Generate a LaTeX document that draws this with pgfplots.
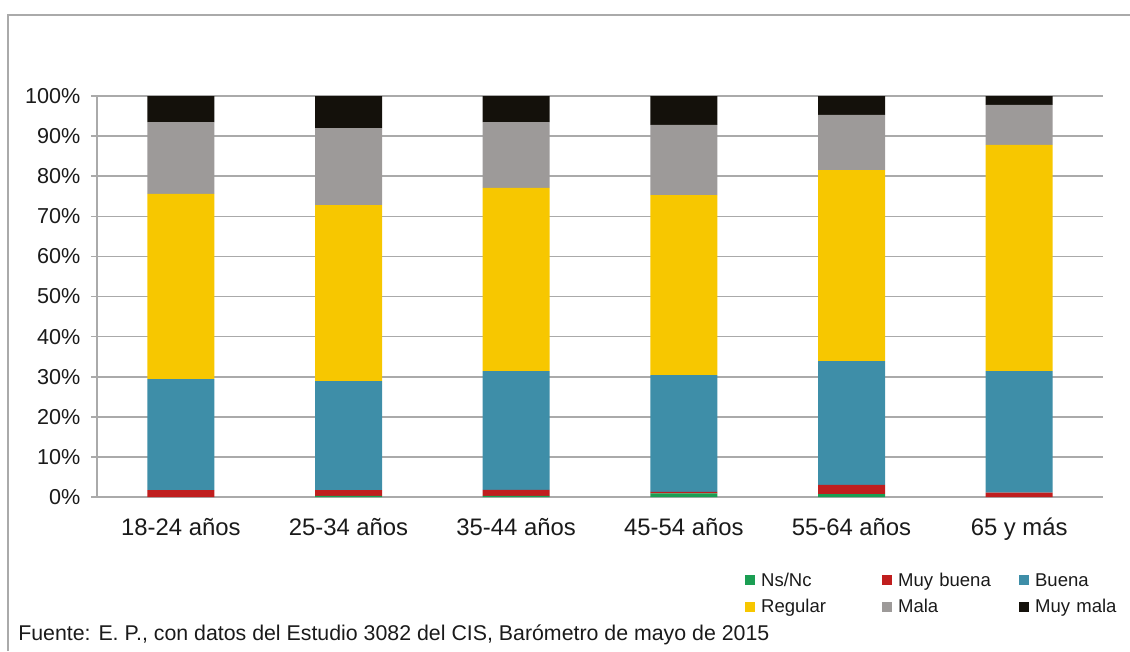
\documentclass[border=0pt]{standalone}
\usepackage{pgfplots}
\pgfplotsset{compat=1.18}
\usepackage{fontspec}
\setmainfont{Liberation Sans}

\definecolor{nsnc}{RGB}{27,158,83}
\definecolor{muybuena}{RGB}{192,30,30}
\definecolor{buena}{RGB}{62,142,168}
\definecolor{regular}{RGB}{247,199,0}
\definecolor{mala}{RGB}{157,154,153}
\definecolor{muymala}{RGB}{20,17,11}
\definecolor{gridgray}{RGB}{170,170,170}
\definecolor{txt}{RGB}{26,26,26}

\begin{document}
\begin{tikzpicture}
\path[use as bounding box] (0,0) rectangle (847.5pt,488.25pt);
% outer frame
\draw[gridgray, line width=1.2pt] (6pt,0) -- (6pt,477pt) -- (847.5pt,477pt);

\begin{axis}[
    at={(72.75pt,115.5pt)}, anchor=south west,
    scale only axis,
    width=754.5pt, height=300.75pt,
    ybar stacked, bar width=50.25pt,
    xmin=-0.5, xmax=5.5, ymin=0, ymax=100,
    axis x line*=bottom, axis y line*=left,
    axis line style={gridgray, line width=1.2pt, -},
    xtick={0,...,5},
    xticklabels={18-24 años,25-34 años,35-44 años,45-54 años,55-64 años,65 y más},
    minor xtick={-0.5,0.5,...,5.5},
    xtick style={draw=none},
    minor x tick style={gridgray, line width=1.2pt},
    ytick={0,10,...,100},
    yticklabel={\pgfmathprintnumber{\tick}\%},
    ytick style={gridgray, line width=1.2pt},
    tick align=outside, major tick length=4.5pt, minor tick length=4.5pt,
    ymajorgrids, major grid style={gridgray, line width=1.2pt},
    /pgf/number format/assume math mode=true,
    x tick label style={font=\fontsize{17.9}{20}\selectfont, text=txt, yshift=-8pt,
        text height=13pt, text depth=4pt},
    y tick label style={font=\fontsize{16.2}{18}\selectfont, text=txt, xshift=-4.5pt},
    legend columns=3,
    legend style={at={(0.644,-0.18)}, anchor=north west, draw=none, fill=none,
        inner sep=0pt, row sep=2.5pt,
        font=\fontsize{13.9}{16}\selectfont, text=txt,
        nodes={inner ysep=2pt, inner xsep=4.5pt, text width=86.25pt, text height=10.5pt, text depth=3pt}},
    legend cell align=left,
    legend image code/.code={\fill[#1,draw=none] (0pt,-3.2pt) rectangle (7.5pt,4.3pt);},
]
\addplot[fill=nsnc, draw=none] coordinates {(0,0) (1,0.3) (2,0.3) (3,0.9) (4,0.7) (5,0)};
\addplot[fill=muybuena, draw=none] coordinates {(0,1.7) (1,1.4) (2,1.5) (3,0.4) (4,2.3) (5,1.1)};
\addplot[fill=buena, draw=none] coordinates {(0,27.7) (1,27.2) (2,29.6) (3,29.1) (4,30.9) (5,30.3)};
\addplot[fill=regular, draw=none] coordinates {(0,46.2) (1,43.9) (2,45.7) (3,44.9) (4,47.6) (5,56.4)};
\addplot[fill=mala, draw=none] coordinates {(0,17.9) (1,19.2) (2,16.4) (3,17.5) (4,13.8) (5,10.0)};
\addplot[fill=muymala, draw=none] coordinates {(0,6.5) (1,8.0) (2,6.5) (3,7.2) (4,4.7) (5,2.2)};
\legend{Ns/Nc, Muy buena, Buena, Regular, Mala, Muy mala}
\end{axis}

\node[anchor=base west, inner sep=0pt, text=txt, font=\fontsize{16}{19}\selectfont] at (13.5pt,7.8pt)
    {Fuente: E. P., con datos del Estudio 3082 del CIS, Barómetro de mayo de 2015};
\end{tikzpicture}
\end{document}
